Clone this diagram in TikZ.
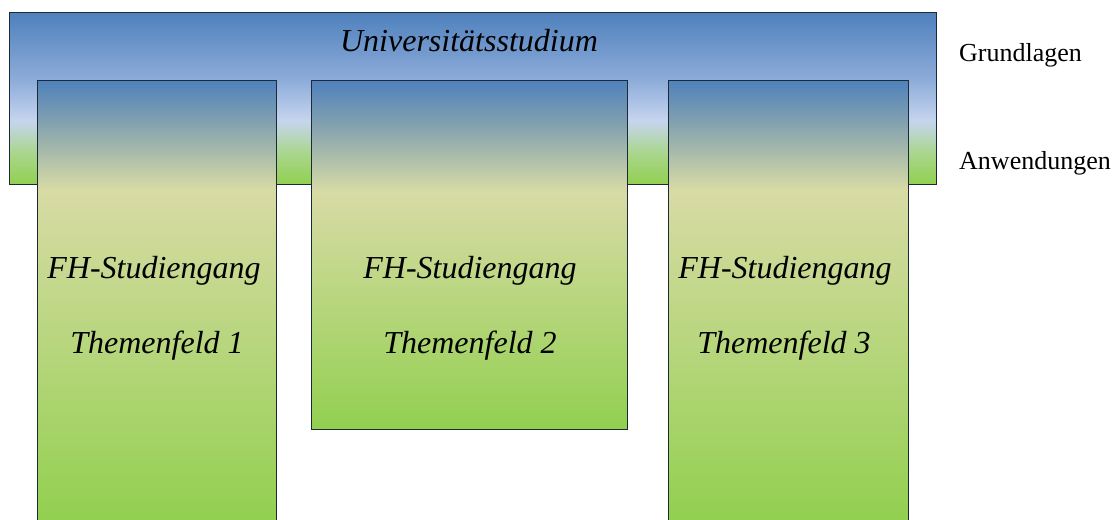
\documentclass[tikz,border=0pt]{standalone}
\usepackage{fontspec}
\setmainfont{Liberation Serif}
\definecolor{cblue}{HTML}{4F81BD}
\definecolor{cmid}{HTML}{8FADDA}
\definecolor{clight}{HTML}{C6D5EF}
\definecolor{cgreenb}{HTML}{A9D68C}
\definecolor{cgreen}{HTML}{92D050}
\definecolor{ctan}{HTML}{D8DBA5}
\definecolor{cgray}{HTML}{7F9FB0}
\definecolor{cedge}{HTML}{1C2A36}
\pgfdeclareverticalshading{bannershade}{100bp}{color(0bp)=(cgreen); color(25bp)=(cgreen); color(34bp)=(cgreenb); color(43.5bp)=(clight); color(55bp)=(cmid); color(75bp)=(cblue); color(100bp)=(cblue)}
\pgfdeclareverticalshading{tallshade}{100bp}{color(0bp)=(cgreen); color(25bp)=(cgreen); color(62.5bp)=(ctan); color(70.5bp)=(cgray); color(75bp)=(cblue); color(100bp)=(cblue)}
\pgfdeclareverticalshading{shortshade}{100bp}{color(0bp)=(cgreen); color(25bp)=(cgreen); color(59bp)=(ctan); color(69bp)=(cgray); color(75bp)=(cblue); color(100bp)=(cblue)}
\tikzset{
  panel/.style={draw=cedge, line width=1pt, inner sep=0pt, outer sep=0pt},
  itext/.style={font=\fontsize{32}{38}\selectfont\itshape, inner sep=0pt},
  rtext/.style={font=\fontsize{26}{31}\selectfont, inner sep=0pt}
}
\begin{document}
\begin{tikzpicture}[x=1pt,y=1pt]
\path[use as bounding box, clip] (0,0) rectangle (1118,-519);
\node[panel, shading=bannershade, minimum width=927pt, minimum height=171pt] (banner) at (472.5,-98.5) {};
\node[panel, shading=tallshade, minimum width=239pt, minimum height=440pt] (b1) at (156.5,-300) {};
\node[panel, shading=shortshade, minimum width=316pt, minimum height=349pt] (b2) at (469,-254.5) {};
\node[panel, shading=tallshade, minimum width=240pt, minimum height=440pt] (b3) at (788,-300) {};
\node[itext, anchor=base] (uni) at (469,-52) {Universitätsstudium};
\node[itext, anchor=base] (fh1) at (154,-278) {FH-Studiengang};
\node[itext, anchor=base] (th1) at (157,-353) {Themenfeld 1};
\node[itext, anchor=base] (fh2) at (470,-278) {FH-Studiengang};
\node[itext, anchor=base] (th2) at (470,-353) {Themenfeld 2};
\node[itext, anchor=base] (fh3) at (785,-278) {FH-Studiengang};
\node[itext, anchor=base] (th3) at (784,-353) {Themenfeld 3};
\node[rtext, anchor=base west] (gl) at (959,-61) {Grundlagen};
\node[rtext, anchor=base west] (aw) at (959,-169) {Anwendungen};
\end{tikzpicture}
\end{document}
